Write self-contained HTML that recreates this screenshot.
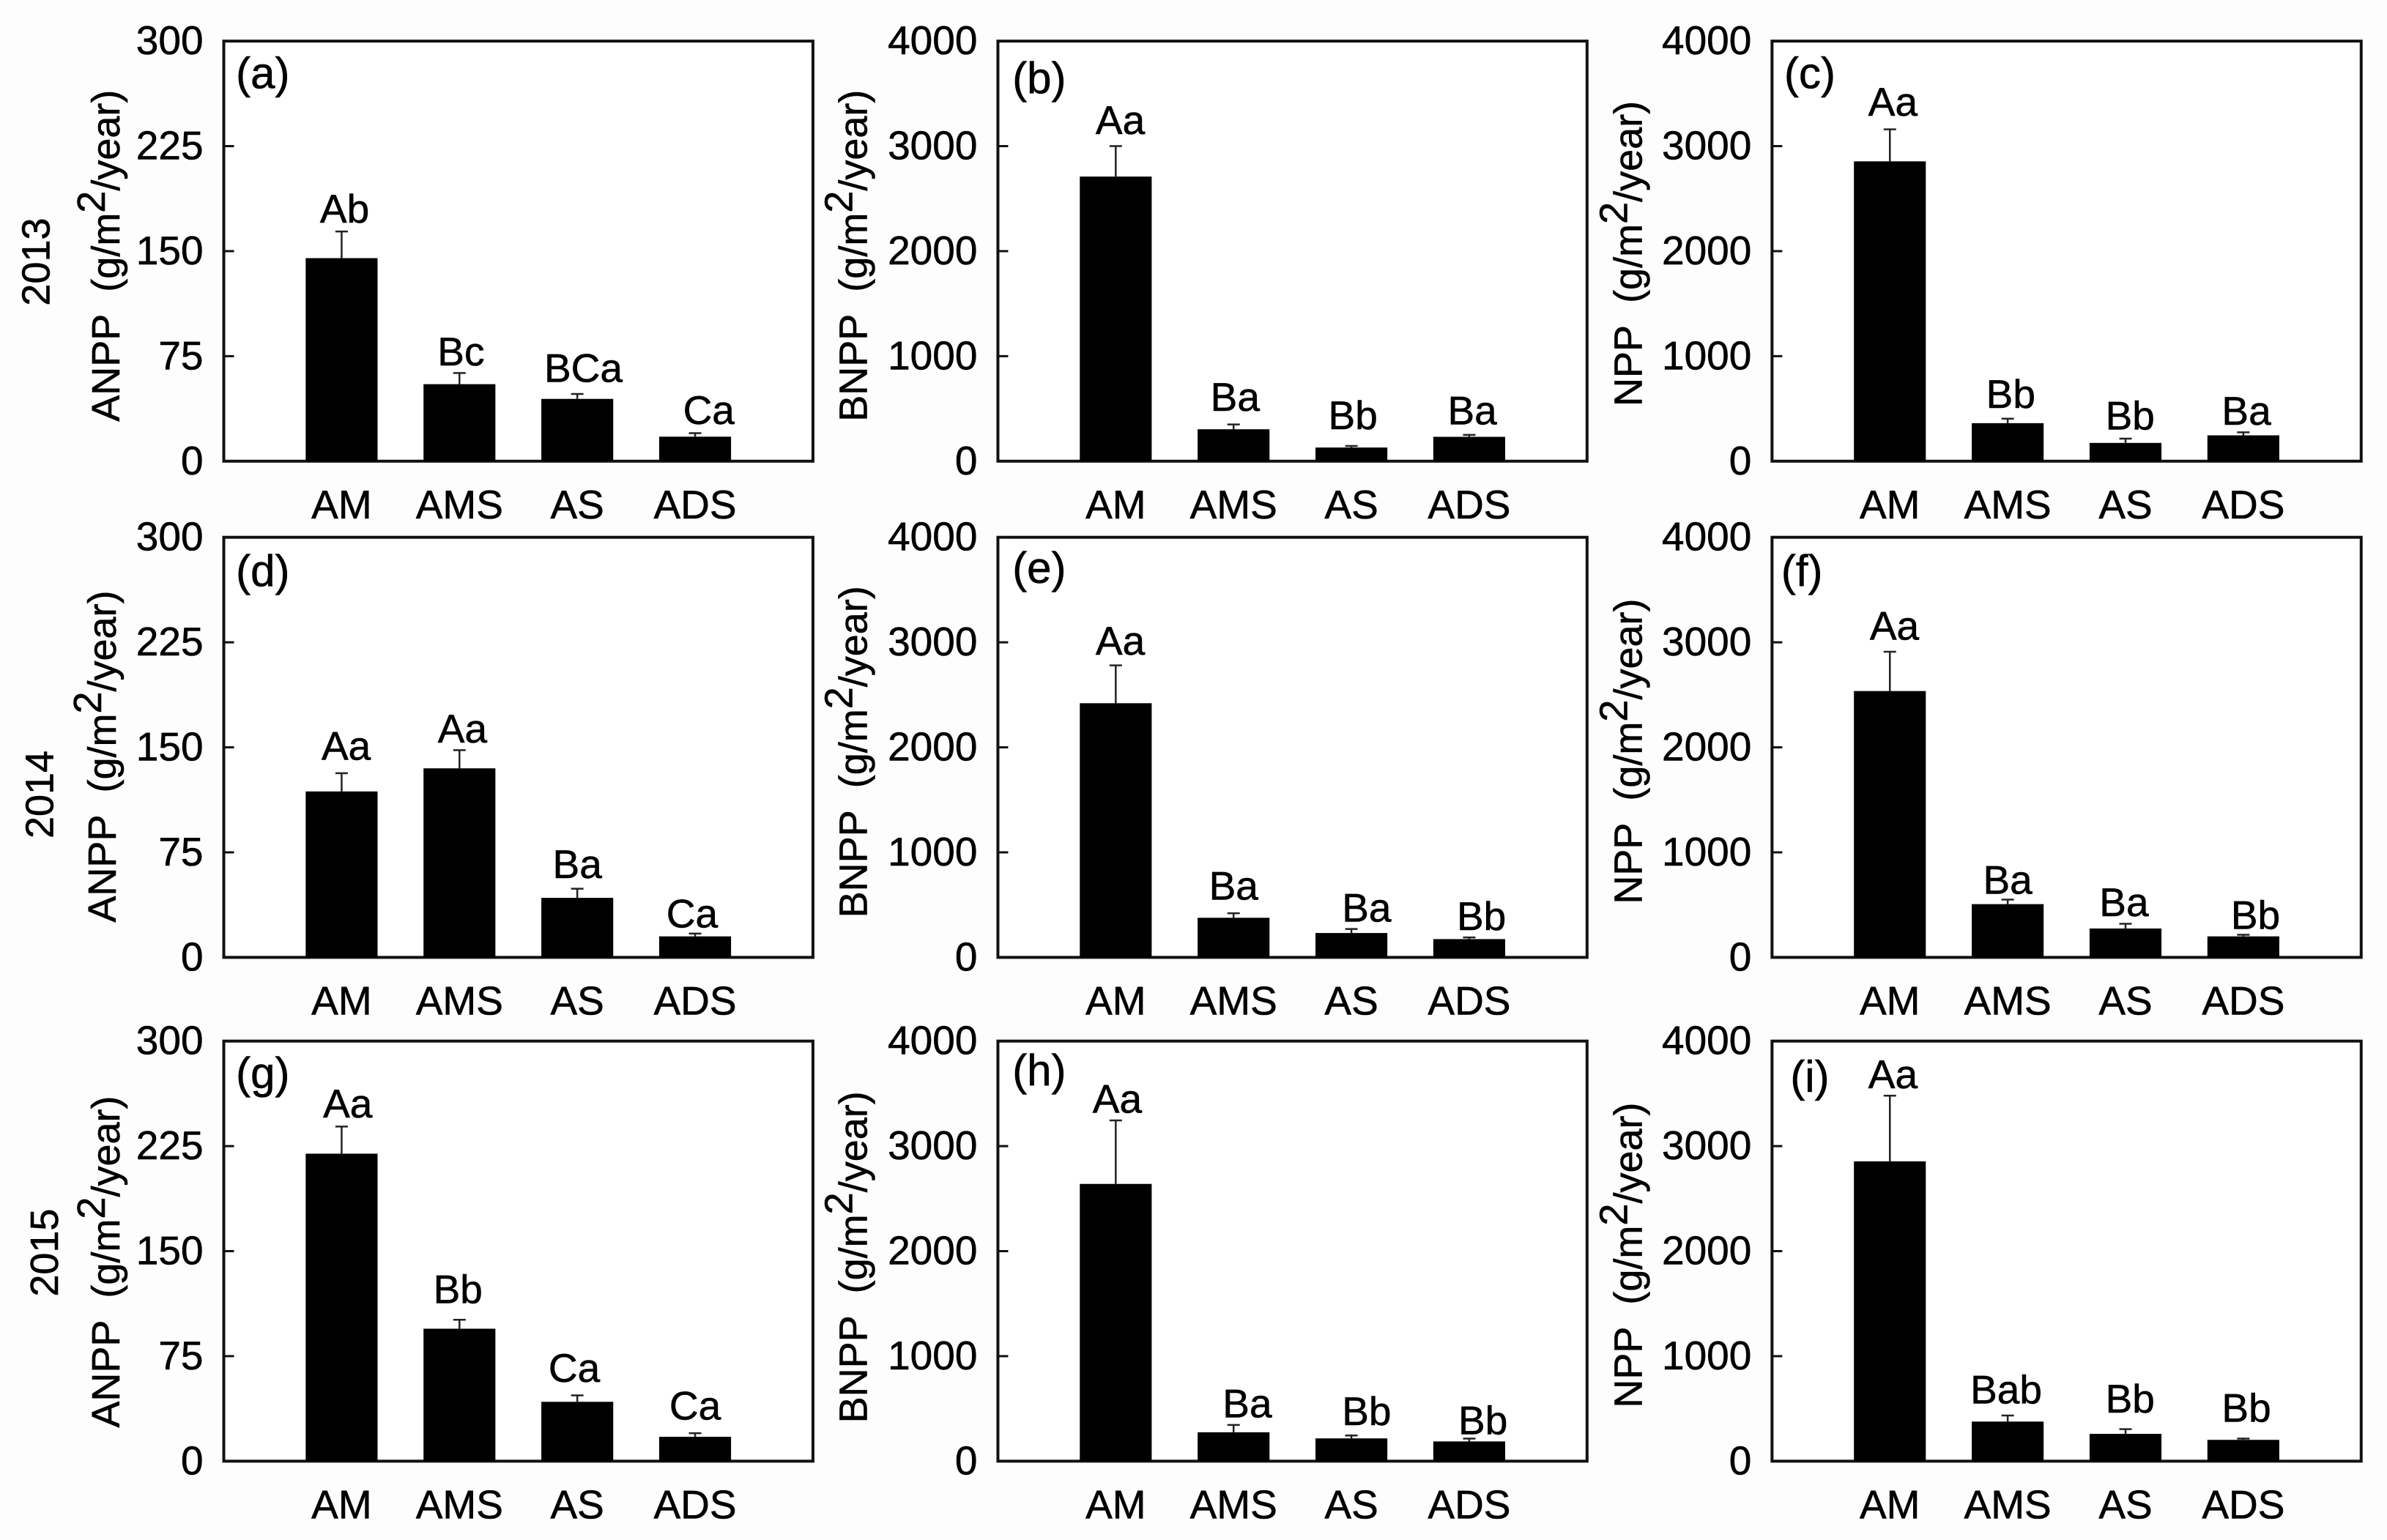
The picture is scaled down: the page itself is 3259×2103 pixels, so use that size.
<!DOCTYPE html>
<html lang="en">
<head>
<meta charset="utf-8">
<title>ANPP, BNPP and NPP by treatment, 2013-2015</title>
<style>
html,body{margin:0;padding:0;background:#fdfdfd;width:3259px;height:2103px;overflow:hidden}
svg{display:block}
text{font-family:"Liberation Sans",Arial,sans-serif;fill:#000;stroke:#000;stroke-width:0.6px}
</style>
</head>
<body>
<svg id="figure" xmlns="http://www.w3.org/2000/svg" width="3259" height="2103" viewBox="0 0 3259 2103"></svg>
<script>
const categories = ['AM', 'AMS', 'AS', 'ADS'];
const anppTicks = [0, 75, 150, 225, 300];
const bnppTicks = [0, 1000, 2000, 3000, 4000];
const yearLabels = ['2013', '2014', '2015'];
const panelLetters = ['(a)', '(b)', '(c)', '(d)', '(e)', '(f)', '(g)', '(h)', '(i)'];
const metricNames = ['ANPP', 'BNPP', 'NPP'];

const valuesA = [145, 55, 44.5, 17.5];
const errorsA = [19, 8, 3.5, 2.5];
const lettersA = ['Ab', 'Bc', 'BCa', 'Ca'];
const valuesB = [2710, 304, 130, 232];
const errorsB = [290, 46, 15, 18];
const lettersB = ['Aa', 'Ba', 'Bb', 'Ba'];
const valuesC = [2855, 362, 174, 246];
const errorsC = [305, 43, 41, 29];
const lettersC = ['Aa', 'Bb', 'Bb', 'Ba'];
const valuesD = [118.5, 135, 42.5, 15];
const errorsD = [13, 13, 6.5, 2];
const lettersD = ['Aa', 'Aa', 'Ba', 'Ca'];
const valuesE = [2420, 377, 232, 174];
const errorsE = [360, 43, 38, 16];
const lettersE = ['Aa', 'Ba', 'Ba', 'Bb'];
const valuesF = [2536, 507, 275, 200];
const errorsF = [374, 43, 45, 15];
const lettersF = ['Aa', 'Ba', 'Ba', 'Bb'];
const valuesG = [219.6, 94.6, 42.4, 17.4];
const errorsG = [19.4, 6.4, 4.6, 2.6];
const lettersG = ['Aa', 'Bb', 'Ca', 'Ca'];
const valuesH = [2640, 275, 217, 188];
const errorsH = [605, 70, 28, 27];
const lettersH = ['Aa', 'Ba', 'Bb', 'Bb'];
const valuesI = [2855, 377, 260, 203];
const errorsI = [625, 58, 45, 12];
const lettersI = ['Aa', 'Bab', 'Bb', 'Bb'];

const panelValues = [valuesA, valuesB, valuesC, valuesD, valuesE, valuesF, valuesG, valuesH, valuesI];
const panelErrors = [errorsA, errorsB, errorsC, errorsD, errorsE, errorsF, errorsG, errorsH, errorsI];
const panelSigLetters = [lettersA, lettersB, lettersC, lettersD, lettersE, lettersF, lettersG, lettersH, lettersI];

/* ---------- layout (not data) ---------- */
const K = 2.0785;
const colLeft = [147, 655.5, 1164].map(v => v * K);
const rowTop = [27, 353, 684].map(v => v * K);
const panelW = 387 * K;
const panelH = 276 * K;
const sigGap = [[5,4,7,5],[7,8,10,6],[8,6,5,4],[8,4,6,3],[6,8,4,4],[7,3,4,3],[5,10,8,8],[4,4,6,2],[4,7,10,10]];
const sigShift = [[2,1,4,9],[3,1,1,2],[2,2,3,2],[3,2,0,-2],[3,0,10,8],[3,0,-1,8],[4,-1,-2,0],[1,9,10,9],[2,-1,3,2]];
const letterPos = [[155,58],[665,61],[1172,58],[155,385],[665,383],[1170,385],[155,715],[665,713],[1176,717]];
const titlePos = [[78.5,277],[569.5,277],[1078.5,267],[76,606],[569.5,603],[1078.5,594],[78.5,938],[569.5,935],[1078.5,925]];
const yearPos = [[32.5,172],[35,522],[38,823]];

const NS = 'http://www.w3.org/2000/svg';
const svg = document.getElementById('figure');
function make(parent, tag, attrs, content) {
  const n = document.createElementNS(NS, tag);
  for (const key in attrs) n.setAttribute(key, attrs[key]);
  if (content !== undefined) n.textContent = content;
  parent.appendChild(n);
  return n;
}

yearLabels.forEach((year, r) => {
  const x = yearPos[r][0] * K, y = yearPos[r][1] * K;
  const t = make(svg, 'text', {x: x, y: y, 'font-size': 54, 'text-anchor': 'middle', transform: 'rotate(-90 ' + x + ' ' + y + ')'}, year);
  
  
});

panelValues.forEach((values, p) => {
  const col = p % 3, row = Math.floor(p / 3);
  const left = colLeft[col], top = rowTop[row], bottom = top + panelH;
  const ticks = col === 0 ? anppTicks : bnppTicks;
  const yMax = ticks[ticks.length - 1];
  const xScale = v => left + (v / 5) * panelW;
  const yScale = v => bottom - (v / yMax) * panelH;
  const errors = panelErrors[p];
  const sig = panelSigLetters[p];

  const g = make(svg, 'g', {});
  
  

  const frame = make(g, 'rect', {x: left, y: top, width: panelW, height: panelH, fill: '#fff', stroke: '#111', 'stroke-width': 4});
  
  

  ticks.forEach(tv => {
    const y = yScale(tv);
    if (tv !== 0 && tv !== yMax) {
      const tk = make(g, 'line', {x1: left, x2: left + 14, y1: y, y2: y, stroke: '#111', 'stroke-width': 3});
      
      
    }
    const tl = make(g, 'text', {x: left - 28, y: y + 18, 'font-size': 55, 'text-anchor': 'end'}, String(tv));
    
    
  });

  categories.forEach((cat, i) => {
    const cx = xScale(i + 1);
    const barW = xScale(0.61) - xScale(0);
    const yv = yScale(values[i]);
    const yTop = yScale(values[i] + errors[i]);

    const eb = make(g, 'line', {x1: cx, x2: cx, y1: yv, y2: yTop, stroke: '#222', 'stroke-width': 2.5});
    
    
    const cap = make(g, 'line', {x1: cx - 8.5, x2: cx + 8.5, y1: yTop, y2: yTop, stroke: '#222', 'stroke-width': 2.5});
    
    

    const bar = make(g, 'rect', {x: cx - barW / 2, y: yv, width: barW, height: bottom - yv, fill: '#000'});
    
    

    const sl = make(g, 'text', {x: cx + sigShift[p][i] * K, y: yTop - sigGap[p][i] * K - 2, 'font-size': 55, 'text-anchor': 'middle'}, sig[i]);
    
    

    const xl = make(g, 'text', {x: cx, y: bottom + 78, 'font-size': 55, 'text-anchor': 'middle'}, cat);
    
    
  });

  const pl = make(g, 'text', {x: letterPos[p][0] * K, y: letterPos[p][1] * K, 'font-size': 60}, panelLetters[p]);
  
  

  const tx = titlePos[p][0] * K, ty = titlePos[p][1] * K;
  const title = make(g, 'text', {x: tx, y: ty, 'font-size': 54, transform: 'rotate(-90 ' + tx + ' ' + ty + ')'});
  
  
  make(title, 'tspan', {}, metricNames[col] + '\u00A0 (g/m');
  make(title, 'tspan', {dy: -20}, '2');
  make(title, 'tspan', {dy: 20}, '/year)');
});
</script>
</body>
</html>
